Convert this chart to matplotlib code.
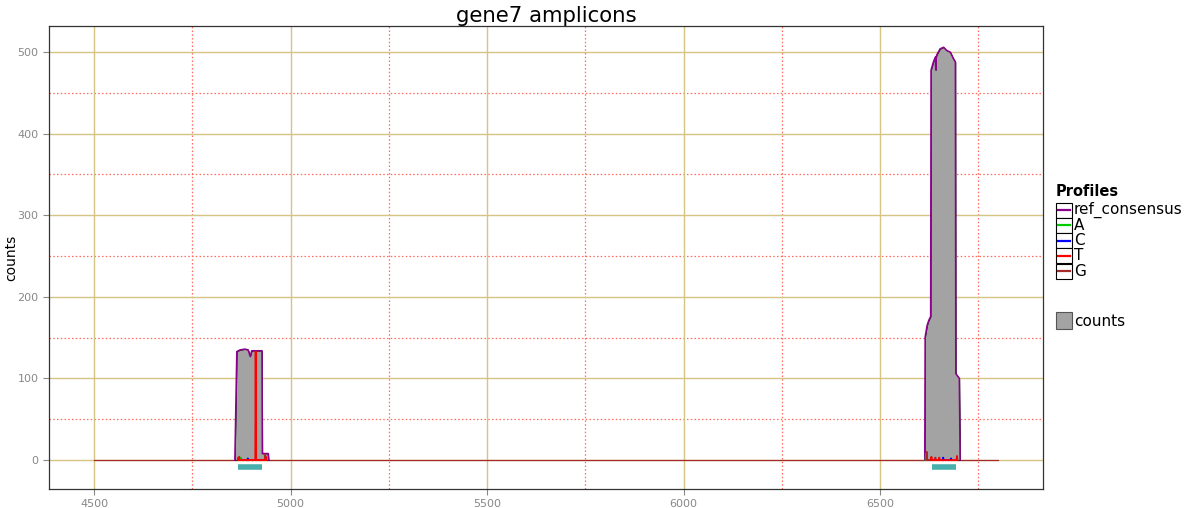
import matplotlib
matplotlib.use('Agg')
import matplotlib.pyplot as plt
from matplotlib.patches import Rectangle
from matplotlib.lines import Line2D

# ---------------- data ----------------
# amplicon 1 coverage
amp1_pos = [4858, 4863, 4871, 4884, 4892, 4897, 4901, 4911, 4927, 4928, 4943, 4944]
amp1_counts = [0, 133, 135, 136, 135, 127, 134, 134, 134, 8, 8, 0]

# amplicon 2 coverage
amp2_pos = [6614, 6615, 6620, 6624, 6629, 6630, 6636, 6641, 6642, 6643, 6645, 6653,
            6662, 6670, 6679, 6687, 6692, 6693, 6702, 6704]
amp2_counts = [0, 151, 165, 171, 176, 478, 488, 494, 478, 494, 497, 504,
               506, 502, 500, 492, 488, 106, 100, 0]

# reference span (baseline)
ref_span = [4500, 6800]

# variant profiles, one list per amplicon (small counts, one T spike)
A_pos = [[4872, 4873, 4874], [6616, 6617, 6618, 6619]]
A_val = [[0, 3, 0], [0, 8, 8, 0]]
C_pos = [[4890, 4891, 4892], [6660, 6661, 6662, 6680, 6681, 6682]]
C_val = [[0, 2, 0], [0, 3, 0, 0, 2, 0]]
T_pos = [[4866, 4867, 4868, 4910, 4911, 4912, 4936, 4937, 4938],
         [6630, 6631, 6632, 6650, 6651, 6652, 6695, 6696, 6697]]
T_val = [[0, 3, 0, 0, 133, 0, 0, 4, 0], [0, 4, 0, 0, 3, 0, 0, 5, 0]]
G_pos = [[4868, 4869, 4870, 4934, 4935, 4936], [6618, 6619, 6620, 6640, 6641, 6642]]
G_val = [[0, 4, 0, 0, 7, 0], [0, 10, 0, 0, 3, 0]]

# amplicon primer spans
amplicons = [(4867, 4928), (6633, 6694)]
amplicon_y = -9

xticks = [4500, 5000, 5500, 6000, 6500]
yticks = [0, 100, 200, 300, 400, 500]
xminor = [4750, 5250, 5750, 6250, 6750]
yminor = [50, 150, 250, 350, 450]

purple = '#8B008B'
fill_gray = '#A3A3A3'

fig = plt.figure(figsize=(11.88, 5.08), dpi=100)
ax = fig.add_axes([49/1188, 1 - 489/508, (1043-49)/1188, (489-26)/508])
ax.set_facecolor('white')

# grid
for x in xminor:
    ax.axvline(x, color='#FF6A5A', lw=0.9, ls=(0, (1.2, 1.8)), zorder=0)
for y in yminor:
    ax.axhline(y, color='#FF6A5A', lw=0.9, ls=(0, (1.2, 1.8)), zorder=0)
for x in xticks:
    ax.axvline(x, color='#D6C482', lw=1.0, zorder=0)
for y in yticks:
    ax.axhline(y, color='#D6C482', lw=1.0, zorder=0)

# baseline
ax.plot(ref_span, [0, 0], color='#A52A2A', lw=0.9, zorder=2)

# coverage
for pos, cnt in [(amp1_pos, amp1_counts), (amp2_pos, amp2_counts)]:
    ax.fill_between(pos, 0, cnt, color=fill_gray, edgecolor='black', lw=0.5, zorder=3)
    ax.plot(pos, cnt, color=purple, lw=1.1, zorder=4)

# variant profiles
for pos_l, val_l, col in [(A_pos, A_val, '#00CC00'), (C_pos, C_val, '#0000FF'),
                          (G_pos, G_val, '#A52A2A'), (T_pos, T_val, '#FF0000')]:
    for pos, val in zip(pos_l, val_l):
        ax.plot(pos, val, color=col, lw=1.3, zorder=5)

# amplicons
for s, e in amplicons:
    ax.plot([s, e], [amplicon_y, amplicon_y], color='#48AFAC', lw=4,
            solid_capstyle='butt', zorder=5)

ax.set_xlim(4385, 6915)
ax.set_ylim(-35.5, 532)
ax.set_xticks(xticks)
ax.set_yticks(yticks)
ax.tick_params(axis='both', colors='#888888', labelcolor='#888888', labelsize=8,
               length=4, width=0.8)
for sp in ax.spines.values():
    sp.set_color('#333333')
    sp.set_linewidth(0.9)
ax.set_ylabel('counts', fontsize=10, color='black')
ax.yaxis.set_label_coords(-0.031, 0.5)
ax.set_title('gene7 amplicons', fontsize=15.3, color='black', pad=3)

# legend (manual)
lg = fig.add_axes([0, 0, 1, 1])
lg.set_xlim(0, 1188)
lg.set_ylim(508, 0)
lg.axis('off')
lg.patch.set_alpha(0)
lg.text(1056, 192, 'Profiles', fontsize=10.5, fontweight='bold', va='center', ha='left')
entries = [('ref_consensus', purple), ('A', '#00CC00'), ('C', '#0000FF'),
           ('T', '#FF0000'), ('G', '#A52A2A')]
for i, (lab, col) in enumerate(entries):
    y = 210 + i * 15.3
    lg.add_patch(Rectangle((1056, y - 7.5), 16, 15, facecolor='white', edgecolor='black', lw=0.8))
    lg.add_line(Line2D([1058, 1070], [y, y], color=col, lw=1.6))
    lg.text(1074, y, lab, fontsize=11, va='center', ha='left')
lg.add_patch(Rectangle((1056, 312), 16, 17, facecolor=fill_gray, edgecolor='#555555', lw=0.8))
lg.text(1074, 321, 'counts', fontsize=11, va='center', ha='left')

fig.savefig('out.png', dpi=100, facecolor='white')
